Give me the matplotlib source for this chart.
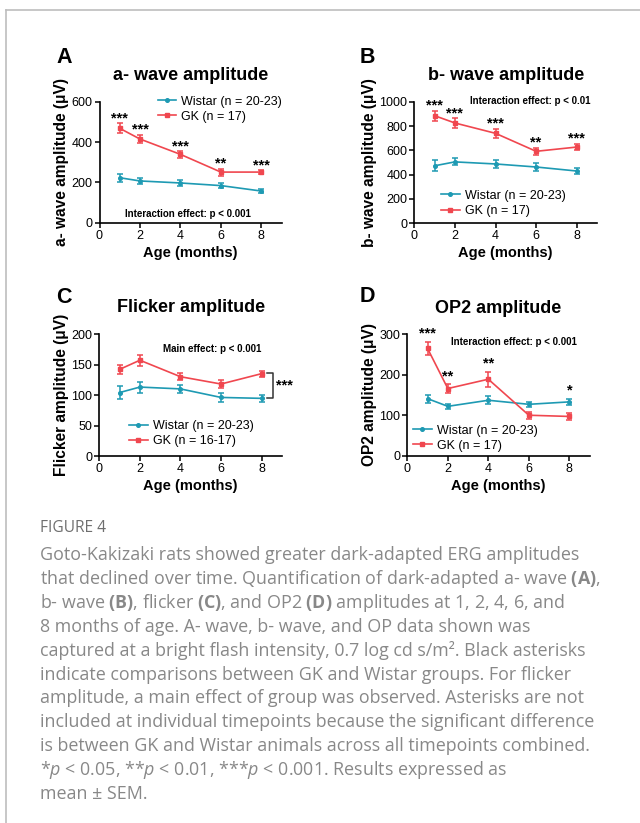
import matplotlib.pyplot as plt
from matplotlib.lines import Line2D
import numpy as np

plt.rcParams['font.family'] = ['Liberation Sans', 'DejaVu Sans']

age = np.array([1, 2, 4, 6, 8])

# a-wave
a_wistar = np.array([223, 207, 197, 184, 157])
a_wistar_sem = np.array([20, 14, 14, 14, 10])
a_gk = np.array([468, 415, 339, 251, 251])
a_gk_sem = np.array([24, 22, 17, 17, 9])
a_stars = ['***', '***', '***', '**', '***']

# b-wave
b_wistar = np.array([473, 505, 488, 463, 430])
b_wistar_sem = np.array([45, 28, 30, 30, 22])
b_gk = np.array([885, 825, 740, 592, 627])
b_gk_sem = np.array([40, 38, 38, 30, 25])
b_stars = ['***', '***', '***', '**', '***']

# flicker
c_wistar = np.array([104, 113, 110, 96, 94.5])
c_wistar_sem = np.array([11, 9, 7, 8, 6])
c_gk = np.array([142, 157, 130, 118, 135])
c_gk_sem = np.array([8, 9, 6, 7, 5])

# OP2
d_wistar = np.array([141, 122, 137, 127, 133])
d_wistar_sem = np.array([10, 6, 10, 6, 8])
d_gk = np.array([265, 166, 189, 100, 97])
d_gk_sem = np.array([16, 10, 19, 9, 8])
d_stars = ['***', '**', '**', '', '*']

teal = '#1e9ab3'
red = '#f0474f'

fig = plt.figure(figsize=(6.4, 8.23), dpi=100)


def px_axes(x0, x1, ytop, ybot):
    return fig.add_axes([x0 / 640, 1 - ybot / 823, (x1 - x0) / 640, (ybot - ytop) / 823])


def panel(ax, wist, wsem, gk, gsem, ymax, ystep, title, ylabel, wlab, glab, leg_xy, stars=None,
          star_off=1.0):
    ax.errorbar(age, wist, yerr=wsem, color=teal, lw=1.2, capsize=2.2, capthick=1.1,
                elinewidth=1.1, marker='o', ms=2.6, zorder=3)
    ax.errorbar(age, gk, yerr=gsem, color=red, lw=1.2, capsize=2.2, capthick=1.1,
                elinewidth=1.1, marker='s', ms=2.6, zorder=3)
    ax.set_xlim(0, 9)
    ax.set_ylim(0, ymax)
    ax.set_xticks([0, 2, 4, 6, 8])
    ax.set_yticks(np.arange(0, ymax + 1, ystep))
    for s in ['top', 'right']:
        ax.spines[s].set_visible(False)
    for s in ['left', 'bottom']:
        ax.spines[s].set_linewidth(1.2)
    ax.tick_params(length=3.5, width=1.1, labelsize=9, pad=1.5)
    ax.set_title(title, fontsize=13, fontweight='bold', pad=15.5)
    ax.set_xlabel('Age (months)', fontsize=10.5, fontweight='bold', labelpad=3)
    ax.set_ylabel(ylabel, fontsize=11.2, fontweight='bold', labelpad=1.5)
    handles = [Line2D([], [], color=teal, lw=1.2, marker='o', ms=2.6),
               Line2D([], [], color=red, lw=1.2, marker='s', ms=2.6)]
    ax.legend(handles, [wlab, glab], loc='upper left', bbox_to_anchor=leg_xy, frameon=False,
              fontsize=9, borderpad=0, borderaxespad=0, handlelength=1.5, handletextpad=0.4,
              labelspacing=0.25, numpoints=1)
    if stars is not None:
        tops = np.maximum(gk + gsem, wist + wsem)
        for x, t, s in zip(age, tops, stars):
            if s:
                ax.annotate(s, (x, t), xytext=(0, star_off), textcoords='offset points',
                            ha='center', va='baseline', fontsize=10.5, fontweight='bold')


axA = px_axes(99.5, 281.5, 101.7, 222.7)
panel(axA, a_wistar, a_wistar_sem, a_gk, a_gk_sem, 600, 200, 'a- wave amplitude',
      'a- wave amplitude (μV)', 'Wistar (n = 20-23)', 'GK (n = 17)', (0.32, 1.05), a_stars, 0.5)
axA.text(0.486, 0.072, 'Interaction effect: p < 0.001', transform=axA.transAxes, ha='center',
         va='center', fontsize=7, fontweight='bold')

axB = px_axes(414.3, 597, 101.7, 223.3)
panel(axB, b_wistar, b_wistar_sem, b_gk, b_gk_sem, 1000, 200, 'b- wave amplitude',
      'b- wave amplitude (μV)', 'Wistar (n = 20-23)', 'GK (n = 17)', (0.146, 0.275), b_stars, 1.0)
axB.text(0.633, 1.006, 'Interaction effect: p < 0.01', transform=axB.transAxes, ha='center',
         va='center', fontsize=7, fontweight='bold')

axC = px_axes(99.3, 281.9, 334, 456)
panel(axC, c_wistar, c_wistar_sem, c_gk, c_gk_sem, 200, 50, 'Flicker amplitude',
      'Flicker amplitude (μV)', 'Wistar (n = 20-23)', 'GK (n = 16-17)', (0.163, 0.295))
axC.text(0.617, 0.877, 'Main effect: p < 0.001', transform=axC.transAxes, ha='center',
         va='center', fontsize=7, fontweight='bold')
yb0, yb1 = c_wistar[-1], c_gk[-1] + 1
axC.plot([8.27, 8.55, 8.55, 8.27], [yb1, yb1, yb0, yb0], color='#333333', lw=1.1,
         clip_on=False)
axC.text(8.7, (yb0 + yb1) / 2, '***', ha='left', va='center', fontsize=10.5, fontweight='bold')

axD = px_axes(407.3, 589.6, 334.3, 455.7)
panel(axD, d_wistar, d_wistar_sem, d_gk, d_gk_sem, 300, 100, 'OP2 amplitude',
      'OP2 amplitude (μV)', 'Wistar (n = 20-23)', 'GK (n = 17)', (0.031, 0.255), d_stars, 3.0)
axD.text(0.585, 0.937, 'Interaction effect: p < 0.001', transform=axD.transAxes, ha='center',
         va='center', fontsize=7, fontweight='bold')

for lab, x, y in [('A', 56, 63), ('B', 360, 63), ('C', 56.5, 303), ('D', 360, 302)]:
    fig.text(x / 640, 1 - y / 823, lab, fontsize=15.5, fontweight='bold', ha='left',
             va='baseline')

# frame lines of the page
fig.add_artist(Line2D([6 / 640, 6 / 640], [0, 1 - 10 / 823], color='#bdbdbd', lw=1.2))
fig.add_artist(Line2D([6 / 640, 1], [1 - 10 / 823, 1 - 10 / 823], color='#bdbdbd', lw=1.2))

plt.rcParams['mathtext.fontset'] = 'custom'
plt.rcParams['mathtext.rm'] = 'Open Sans'
plt.rcParams['mathtext.it'] = 'Open Sans:italic'
plt.rcParams['mathtext.bf'] = 'Open Sans:bold'

fig.text(40 / 640, 1 - 532 / 823, 'FIGURE 4', fontsize=11.2, color='#6e6e6e',
         family='Open Sans', va='baseline')

caption = [
    'Goto-Kakizaki rats showed greater dark-adapted ERG amplitudes',
    r'that declined over time. Quantification of dark-adapted a- wave $\mathbf{(A)}$,',
    r'b- wave $\mathbf{(B)}$, flicker $\mathbf{(C)}$, and OP2 $\mathbf{(D)}$ amplitudes at 1, 2, 4, 6, and',
    '8 months of age. A- wave, b- wave, and OP data shown was',
    'captured at a bright flash intensity, 0.7 log cd s/m². Black asterisks',
    'indicate comparisons between GK and Wistar groups. For flicker',
    'amplitude, a main effect of group was observed. Asterisks are not',
    'included at individual timepoints because the significant difference',
    'is between GK and Wistar animals across all timepoints combined.',
    r'*$\mathit{p}$ < 0.05, **$\mathit{p}$ < 0.01, ***$\mathit{p}$ < 0.001. Results expressed as',
    'mean ± SEM.',
]
for i, line in enumerate(caption):
    fig.text(40 / 640, 1 - (560 + 23.9 * i) / 823, line, fontsize=12.9, color='#888888',
             family='Open Sans', va='baseline')

fig.savefig('out.png', dpi=100)
